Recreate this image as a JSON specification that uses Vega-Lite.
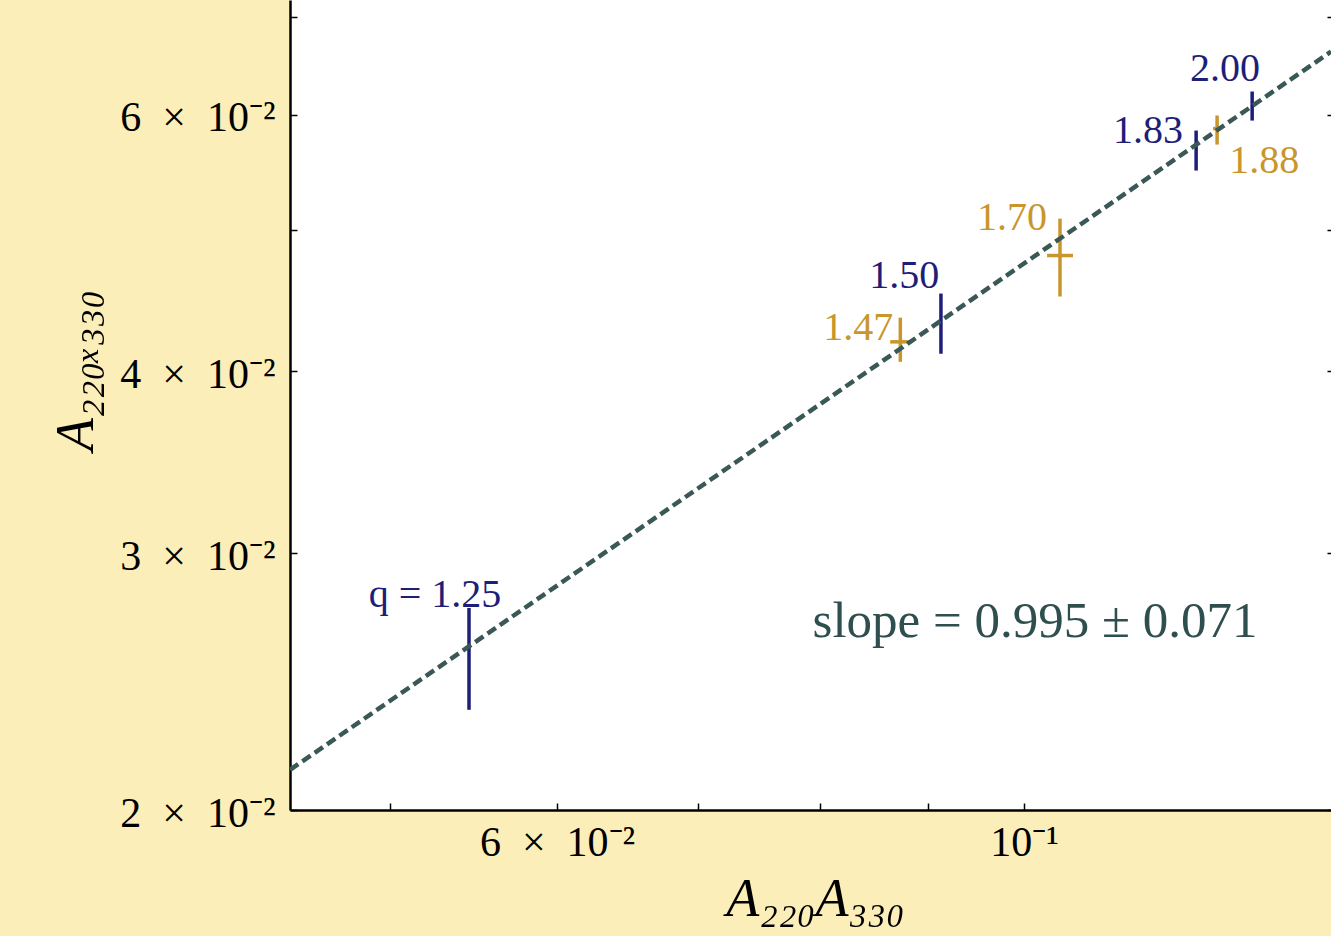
{
  "$schema": "https://vega.github.io/schema/vega-lite/v6.json",
  "width": 1041,
  "height": 810,
  "autosize": {"type": "none"},
  "padding": {"left": 290, "top": 0, "right": 0, "bottom": 126},
  "background": "#fbeeb9",
  "config": {"view": {"fill": "#ffffff", "stroke": null}, "font": "Liberation Serif"},
  "resolve": {"axis": {"y": "independent"}},
  "datasets": {
    "points": [
      {"q": 1.25, "set": "blue", "x": 0.05449, "y": 0.02548, "x_lo": 0.05449, "x_hi": 0.05449, "y_lo": 0.02343, "y_hi": 0.02752, "lx": 0.05250, "ly": 0.02809, "label": "q = 1.25"},
      {"q": 1.50, "set": "blue", "x": 0.09131, "y": 0.04317, "x_lo": 0.09131, "x_hi": 0.09131, "y_lo": 0.04112, "y_hi": 0.04522, "lx": 0.08772, "ly": 0.04652, "label": "1.50"},
      {"q": 1.83, "set": "blue", "x": 0.12071, "y": 0.05671, "x_lo": 0.12071, "x_hi": 0.12071, "y_lo": 0.05492, "y_hi": 0.05850, "lx": 0.11453, "ly": 0.05850, "label": "1.83"},
      {"q": 2.00, "set": "blue", "x": 0.12834, "y": 0.06083, "x_lo": 0.12834, "x_hi": 0.12834, "y_lo": 0.05943, "y_hi": 0.06222, "lx": 0.12460, "ly": 0.06452, "label": "2.00"},
      {"q": 1.47, "set": "gold", "x": 0.08734, "y": 0.04190, "x_lo": 0.08638, "x_hi": 0.08830, "y_lo": 0.04060, "y_hi": 0.04353, "lx": 0.08341, "ly": 0.04284, "label": "1.47"},
      {"q": 1.70, "set": "gold", "x": 0.10401, "y": 0.04802, "x_lo": 0.10255, "x_hi": 0.10550, "y_lo": 0.04501, "y_hi": 0.05090, "lx": 0.09869, "ly": 0.05098, "label": "1.70"},
      {"q": 1.88, "set": "gold", "x": 0.12351, "y": 0.05868, "x_lo": 0.12297, "x_hi": 0.12405, "y_lo": 0.05722, "y_hi": 0.05991, "lx": 0.13004, "ly": 0.05571, "label": "1.88"}
    ],
    "fit": [
      {"x": 0.0448, "y": 0.02131},
      {"x": 0.1399, "y": 0.06627}
    ],
    "note": [
      {"x": 0.10121, "y": 0.02692, "label": "slope = 0.995 ± 0.071"}
    ]
  },
  "layer": [
    {
      "data": {"name": "points"},
      "mark": {"type": "rule", "strokeWidth": 3.5},
      "encoding": {
        "x": {
          "field": "x", "type": "quantitative",
          "scale": {"type": "log", "domain": [0.0448, 0.1399], "nice": false},
          "axis": {
            "title": "A₂₂₀A₃₃₀",
            "values": [0.05, 0.06, 0.07, 0.08, 0.09, 0.1],
            "labelExpr": "datum.value == 0.06 ? '6 \u00a0×\u00a0 10⁻²' : (datum.value == 0.1 ? '10⁻¹' : '')",
            "grid": false,
            "domainColor": "#000000", "domainWidth": 2.5,
            "tickColor": "#000000", "tickWidth": 1.5, "tickSize": -7,
            "labelPadding": 19, "labelFontSize": 42, "labelColor": "#000000",
            "labelFont": "Liberation Serif", "labelFlush": false, "labelOverlap": false,
            "titleFont": "Liberation Serif", "titleFontSize": 54, "titleFontStyle": "italic",
            "titleFontWeight": "normal", "titleColor": "#000000", "titlePadding": 9, "titleX": 525
          }
        },
        "y": {
          "field": "y_lo", "type": "quantitative",
          "scale": {"type": "log", "domain": [0.02, 0.0719], "nice": false},
          "axis": {
            "orient": "left",
            "title": "A₂₂₀ₓ₃₃₀",
            "values": [0.02, 0.03, 0.04, 0.05, 0.06, 0.07],
            "labelExpr": "datum.value == 0.02 ? '2 \u00a0×\u00a0 10⁻²' : (datum.value == 0.03 ? '3 \u00a0×\u00a0 10⁻²' : (datum.value == 0.04 ? '4 \u00a0×\u00a0 10⁻²' : (datum.value == 0.06 ? '6 \u00a0×\u00a0 10⁻²' : '')))",
            "grid": false,
            "domainColor": "#000000", "domainWidth": 2.5,
            "tickColor": "#000000", "tickWidth": 1.5, "tickSize": -7,
            "labelPadding": 22, "labelFontSize": 42, "labelColor": "#000000", "labelOffset": 3,
            "labelFont": "Liberation Serif", "labelFlush": false, "labelOverlap": false,
            "titleFont": "Liberation Serif", "titleFontSize": 54, "titleFontStyle": "italic",
            "titleFontWeight": "normal", "titleColor": "#000000", "titlePadding": 16, "titleY": 370
          }
        },
        "y2": {"field": "y_hi"},
        "color": {"field": "set", "type": "nominal", "scale": {"domain": ["blue", "gold"], "range": ["#1e1e78", "#c8962c"]}, "legend": null}
      }
    },
    {
      "data": {"name": "points"},
      "transform": [{"filter": "datum.set == 'gold'"}],
      "mark": {"type": "rule", "strokeWidth": 3.5},
      "encoding": {
        "x": {"field": "x_lo", "type": "quantitative"},
        "x2": {"field": "x_hi"},
        "y": {"field": "y", "type": "quantitative", "axis": null},
        "color": {"field": "set", "type": "nominal", "legend": null}
      }
    },
    {
      "data": {"name": "fit"},
      "mark": {"type": "line", "color": "#3a5856", "strokeWidth": 4.5, "strokeDash": [10, 5], "clip": true},
      "encoding": {
        "x": {"field": "x", "type": "quantitative"},
        "y": {
          "field": "y", "type": "quantitative",
          "axis": {
            "orient": "right", "title": null, "labels": false, "domain": false, "grid": false,
            "values": [0.02, 0.03, 0.04, 0.05, 0.06, 0.07],
            "tickColor": "#000000", "tickWidth": 1.5, "tickSize": -4
          }
        }
      }
    },
    {
      "data": {"name": "points"},
      "mark": {"type": "text", "fontSize": 40, "align": "center", "baseline": "middle", "font": "Liberation Serif"},
      "encoding": {
        "x": {"field": "lx", "type": "quantitative"},
        "y": {"field": "ly", "type": "quantitative", "axis": null},
        "text": {"field": "label"},
        "color": {"field": "set", "type": "nominal", "legend": null}
      }
    },
    {
      "data": {"name": "note"},
      "mark": {"type": "text", "fontSize": 51, "align": "center", "baseline": "middle", "font": "Liberation Serif", "color": "#2f4f4f"},
      "encoding": {
        "x": {"field": "x", "type": "quantitative"},
        "y": {"field": "y", "type": "quantitative", "axis": null},
        "text": {"field": "label"}
      }
    }
  ]
}
